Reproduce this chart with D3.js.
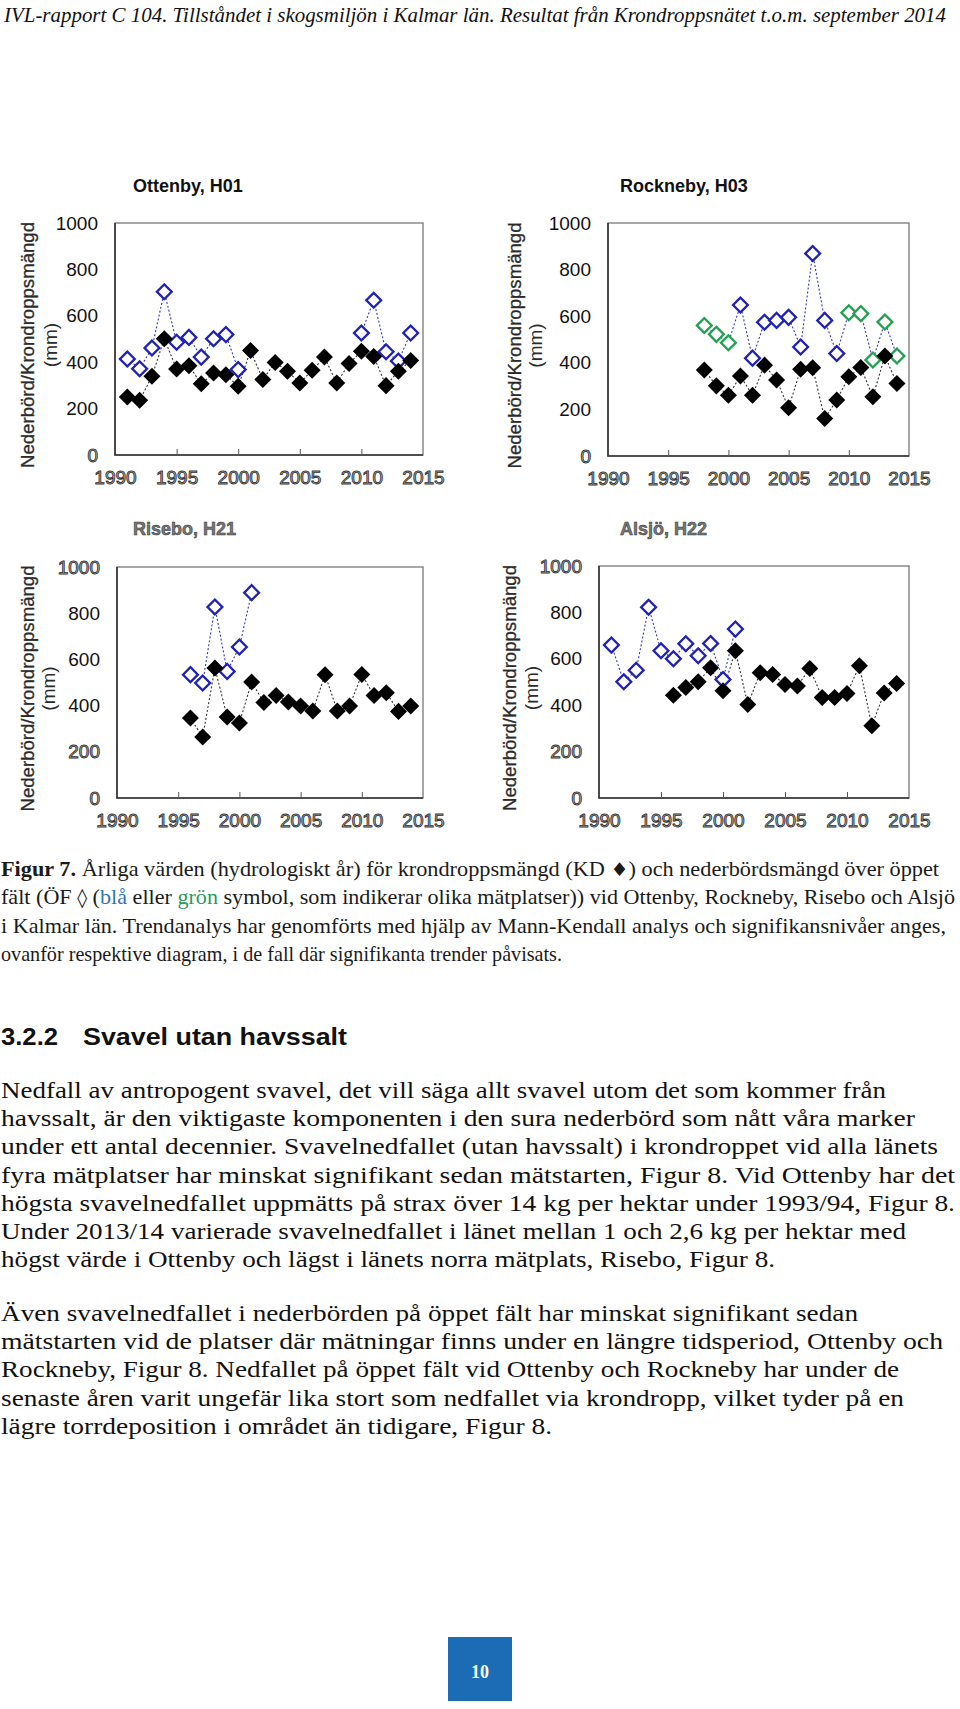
<!DOCTYPE html>
<html>
<head>
<meta charset="utf-8">
<script src="https://cdn.jsdelivr.net/npm/d3@7"></script>
<style>
  body { margin: 0; background: #fff; }
  svg { display: block; }
</style>
</head>
<body>
<svg id="page"></svg>
<script>
// hydrological years shared by all four panels
let years = [1991, 1992, 1993, 1994, 1995, 1996, 1997, 1998, 1999, 2000, 2001, 2002,
             2003, 2004, 2005, 2006, 2007, 2008, 2009, 2010, 2011, 2012, 2013, 2014]

// KD = krondropp (filled), OF = öppet fält (open). null = no measurement
let ottenbyKD = [250, 236, 339, 501, 371, 385, 307, 353, 346, 296, 450, 325,
                 399, 361, 310, 365, 422, 310, 394, 447, 425, 299, 361, 407]
let ottenbyOF = [414, 372, 461, 704, 486, 507, 422, 501, 519, 368, null, null,
                 null, null, null, null, null, null, null, 526, 667, 445, 405, 526]
let ottenbySite = ['b', 'b', 'b', 'b', 'b', 'b', 'b', 'b', 'b', 'b', null, null,
                   null, null, null, null, null, null, null, 'b', 'b', 'b', 'b', 'b']

let rocknebyKD = [null, null, null, null, null, null, null, 369, 301, 261, 343, 261,
                  390, 326, 207, 372, 379, 161, 240, 340, 380, 254, 429, 311]
let rocknebyOF = [null, null, null, null, null, null, null, 560, 522, 486, 648, 420,
                  574, 582, 595, 468, 869, 582, 440, 615, 611, 412, 575, 429]
let rocknebySite = [null, null, null, null, null, null, null, 'g', 'g', 'g', 'b', 'b',
                    'b', 'b', 'b', 'b', 'b', 'b', 'b', 'g', 'g', 'g', 'g', 'g']

let riseboKD = [null, null, null, null, null, 346, 264, 563, 351, 325, 502, 413,
                444, 416, 398, 377, 534, 377, 398, 535, 444, 456, 375, 398]
let riseboOF = [null, null, null, null, null, 534, 498, 827, 548, 654, 889, null,
                null, null, null, null, null, null, null, null, null, null, null, null]
let riseboSite = [null, null, null, null, null, 'b', 'b', 'b', 'b', 'b', 'b', null,
                  null, null, null, null, null, null, null, null, null, null, null, null]

let alsjoKD = [null, null, null, null, null, 443, 476, 501, 561, 462, 635, 403,
               540, 532, 489, 483, 558, 433, 433, 450, 570, 311, 453, 494]
let alsjoOF = [659, 501, 551, 822, 635, 600, 665, 613, 666, 511, 728, null,
               null, null, null, null, null, null, null, null, null, null, null, null]
let alsjoSite = ['b', 'b', 'b', 'b', 'b', 'b', 'b', 'b', 'b', 'b', 'b', null,
                 null, null, null, null, null, null, null, null, null, null, null, null]

let xTicks = [1990, 1995, 2000, 2005, 2010, 2015]
let yTicks = [0, 200, 400, 600, 800, 1000]

let width = 960
let height = 1709
let siteColor = { b: '#1f22b4', g: '#22a050' }
let sans = "'Liberation Sans', Arial, sans-serif"
let serif = "'Liberation Serif', 'Times New Roman', serif"

let panels = [
  { title: 'Ottenby, H01', kd: ottenbyKD, of: ottenbyOF, site: ottenbySite,
    left: 115, right: 423, top: 223, bottom: 455, titleX: 133, titleY: 192,
    lab1: 27, lab2: 50, faded: [0], titleFaded: false },
  { title: 'Rockneby, H03', kd: rocknebyKD, of: rocknebyOF, site: rocknebySite,
    left: 608, right: 909, top: 223, bottom: 456, titleX: 620, titleY: 192,
    lab1: 514, lab2: 535, faded: [0], titleFaded: false },
  { title: 'Risebo, H21', kd: riseboKD, of: riseboOF, site: riseboSite,
    left: 117, right: 423, top: 567, bottom: 798, titleX: 133, titleY: 535,
    lab1: 27, lab2: 48, faded: [0, 200, 1000], titleFaded: true },
  { title: 'Alsjö, H22', kd: alsjoKD, of: alsjoOF, site: alsjoSite,
    left: 599, right: 909, top: 566, bottom: 798, titleX: 620, titleY: 535,
    lab1: 509, lab2: 531, faded: [0, 200, 1000], titleFaded: true }
]

let svg = d3.select('#page')
            .attr('width', width)
            .attr('height', height)

function fade(sel) {
  sel.attr('fill', '#bdbdbd')
     .attr('stroke', '#333')
     .attr('stroke-width', 0.9)
}

function drawPanel(p) {
  let x = d3.scaleLinear().domain([1990, 2015]).range([p.left, p.right])
  let y = d3.scaleLinear().domain([0, 1000]).range([p.bottom, p.top])
  let g = svg.append('g')

  // frame
  g.append('rect')
      .attr('x', p.left)
      .attr('y', p.top)
      .attr('width', p.right - p.left)
      .attr('height', p.bottom - p.top)
      .attr('fill', 'none')
      .attr('stroke', '#777')
      .attr('stroke-width', 1.3)
  g.append('path')
      .attr('d', `M${p.left},${p.top}V${p.bottom}H${p.right}`)
      .attr('fill', 'none')
      .attr('stroke', '#333')
      .attr('stroke-width', 1.6)

  // x labels
  let xAxis = d3.axisBottom(x)
                .tickValues(xTicks)
                .tickSize(0)
                .tickPadding(16)
                .tickFormat(d3.format('d'))
  let xg = g.append('g')
      .attr('transform', `translate(0, ${p.bottom})`)
      .call(xAxis)
  xg.select('.domain').remove()
  xg.selectAll('text')
      .style('font-family', sans)
      .style('font-size', '19px')
      .call(fade)

  // small inward ticks
  let inner = d3.axisBottom(x)
                .tickValues(xTicks.slice(1, -1))
                .tickSize(-6)
                .tickFormat('')
  let ig = g.append('g')
      .attr('transform', `translate(0, ${p.bottom})`)
      .call(inner)
  ig.select('.domain').remove()
  ig.selectAll('line').attr('stroke', '#555')

  // y labels
  let yAxis = d3.axisLeft(y)
                .tickValues(yTicks)
                .tickSize(0)
                .tickPadding(17)
                .tickFormat(d3.format('d'))
  let yg = g.append('g')
      .attr('transform', `translate(${p.left}, 0)`)
      .call(yAxis)
  yg.select('.domain').remove()
  yg.selectAll('text')
      .style('font-family', sans)
      .style('font-size', '19px')
      .attr('fill', '#111')
  yg.selectAll('.tick')
      .filter(d => p.faded.includes(d))
      .select('text')
      .call(fade)

  // axis title
  let cy = (p.top + p.bottom) / 2 + 6
  g.append('text')
      .attr('transform', `translate(${p.lab1}, ${cy}) rotate(-90)`)
      .attr('dy', '0.35em')
      .attr('textLength', 246)
      .attr('lengthAdjust', 'spacingAndGlyphs')
      .style('text-anchor', 'middle')
      .style('font-family', sans)
      .style('font-size', '19px')
      .attr('fill', '#2a2a2a')
      .attr('stroke', '#2a2a2a')
      .attr('stroke-width', 0.3)
      .text('Nederbörd/Krondroppsmängd')
  g.append('text')
      .attr('transform', `translate(${p.lab2}, ${cy}) rotate(-90)`)
      .attr('dy', '0.35em')
      .style('text-anchor', 'middle')
      .style('font-family', sans)
      .style('font-size', '19px')
      .attr('fill', '#2a2a2a')
      .text('(mm)')

  // panel title
  let t = g.append('text')
      .attr('x', p.titleX)
      .attr('y', p.titleY)
      .style('font-family', sans)
      .style('font-size', '18px')
      .style('font-weight', 'bold')
      .attr('fill', '#111')
      .text(p.title)
  if (p.titleFaded) t.attr('fill', '#777').attr('stroke', '#333').attr('stroke-width', 0.5)

  let line = d3.line()
               .defined(d => d.v != null)
               .x(d => x(d.year))
               .y(d => y(d.v))

  let ofData = years.map((year, i) => ({ year: year, v: p.of[i], site: p.site[i] }))
  let kdData = years.map((year, i) => ({ year: year, v: p.kd[i] }))

  g.append('path')
      .datum(ofData)
      .attr('d', line)
      .attr('fill', 'none')
      .attr('stroke', '#3538c0')
      .attr('stroke-width', 1.1)
      .attr('stroke-dasharray', '2,2')
  g.append('path')
      .datum(kdData)
      .attr('d', line)
      .attr('fill', 'none')
      .attr('stroke', '#333')
      .attr('stroke-width', 1.1)
      .attr('stroke-dasharray', '2,2')

  let open = d3.symbol(d3.symbolSquare, 110)
  let filled = d3.symbol(d3.symbolSquare, 145)

  g.selectAll('.of')
    .data(ofData.filter(d => d.v != null))
    .enter()
    .append('path')
      .attr('d', open)
      .attr('transform', d => `translate(${x(d.year)}, ${y(d.v)}) rotate(45)`)
      .attr('fill', '#fff')
      .attr('stroke', d => siteColor[d.site])
      .attr('stroke-width', 2.3)

  g.selectAll('.kd')
    .data(kdData.filter(d => d.v != null))
    .enter()
    .append('path')
      .attr('d', filled)
      .attr('transform', d => `translate(${x(d.year)}, ${y(d.v)}) rotate(45)`)
      .attr('fill', '#000')
}

// running header
svg.append('text')
    .attr('x', 4)
    .attr('y', 22)
    .attr('textLength', 942)
    .attr('lengthAdjust', 'spacingAndGlyphs')
    .style('font-family', serif)
    .style('font-style', 'italic')
    .style('font-size', '21px')
    .attr('fill', '#111')
    .text('IVL-rapport C 104. Tillståndet i skogsmiljön i Kalmar län. Resultat från Krondroppsnätet t.o.m. september 2014')

panels.forEach(drawPanel)

// figure caption, one array of segments per line
let caption = [
  { end: 939, parts: [
    { t: 'Figur 7.', bold: true },
    { t: ' Årliga värden (hydrologiskt år) för krondroppsmängd (KD ' },
    { t: '♦', sym: true },
    { t: ') och nederbördsmängd över öppet' }] },
  { end: 955, parts: [
    { t: 'fält (ÖF ' },
    { t: '◊', sym: true },
    { t: ' (' },
    { t: 'blå', color: '#2e75b6' },
    { t: ' eller ' },
    { t: 'grön', color: '#2b9a5c' },
    { t: ' symbol, som indikerar olika mätplatser)) vid Ottenby, Rockneby, Risebo och Alsjö' }] },
  { end: 946, parts: [
    { t: 'i Kalmar län. Trendanalys har genomförts med hjälp av Mann-Kendall analys och signifikansnivåer anges,' }] },
  { end: 562, parts: [
    { t: 'ovanför respektive diagram, i de fall där signifikanta trender påvisats.' }] }
]

caption.forEach((row, i) => {
  let txt = svg.append('text')
      .attr('x', 1)
      .attr('y', 876 + i * 28.3)
      .attr('textLength', row.end - 1)
      .attr('lengthAdjust', 'spacingAndGlyphs')
      .style('font-family', serif)
      .style('font-size', '21px')
      .attr('fill', '#1a1a1a')
  row.parts.forEach(part => {
    let ts = txt.append('tspan').text(part.t)
    if (part.bold) ts.style('font-weight', 'bold')
    if (part.color) ts.attr('fill', part.color)
    if (part.sym) ts.style('font-family', "'DejaVu Sans', sans-serif").style('font-size', '19px')
  })
})

// section heading
svg.append('text')
    .attr('x', 1)
    .attr('y', 1045)
    .attr('textLength', 57)
    .attr('lengthAdjust', 'spacingAndGlyphs')
    .style('font-family', sans)
    .style('font-weight', 'bold')
    .style('font-size', '23px')
    .attr('fill', '#111')
    .text('3.2.2')
svg.append('text')
    .attr('x', 83)
    .attr('y', 1045)
    .attr('textLength', 264)
    .attr('lengthAdjust', 'spacingAndGlyphs')
    .style('font-family', sans)
    .style('font-weight', 'bold')
    .style('font-size', '23px')
    .attr('fill', '#111')
    .text('Svavel utan havssalt')

let para1 = [
  ['Nedfall av antropogent svavel, det vill säga allt svavel utom det som kommer från', 886],
  ['havssalt, är den viktigaste komponenten i den sura nederbörd som nått våra marker', 915],
  ['under ett antal decennier. Svavelnedfallet (utan havssalt) i krondroppet vid alla länets', 938],
  ['fyra mätplatser har minskat signifikant sedan mätstarten, Figur 8. Vid Ottenby har det', 955],
  ['högsta svavelnedfallet uppmätts på strax över 14 kg per hektar under 1993/94, Figur 8.', 955],
  ['Under 2013/14 varierade svavelnedfallet i länet mellan 1 och 2,6 kg per hektar med', 906],
  ['högst värde i Ottenby och lägst i länets norra mätplats, Risebo, Figur 8.', 775]
]
let para2 = [
  ['Även svavelnedfallet i nederbörden på öppet fält har minskat signifikant sedan', 858],
  ['mätstarten vid de platser där mätningar finns under en längre tidsperiod, Ottenby och', 943],
  ['Rockneby, Figur 8. Nedfallet på öppet fält vid Ottenby och Rockneby har under de', 899],
  ['senaste åren varit ungefär lika stort som nedfallet via krondropp, vilket tyder på en', 904],
  ['lägre torrdeposition i området än tidigare, Figur 8.', 552]
]

function paragraph(lines, y0) {
  lines.forEach((row, i) => {
    svg.append('text')
        .attr('x', 1)
        .attr('y', y0 + i * 28.2)
        .attr('textLength', row[1] - 1)
        .attr('lengthAdjust', 'spacingAndGlyphs')
        .style('font-family', serif)
        .style('font-size', '24px')
        .attr('fill', '#111')
        .text(row[0])
  })
}
paragraph(para1, 1098)
paragraph(para2, 1321)

// page number
svg.append('rect')
    .attr('x', 448)
    .attr('y', 1637)
    .attr('width', 64)
    .attr('height', 64)
    .attr('fill', '#1b6cb4')
svg.append('text')
    .attr('x', 480)
    .attr('y', 1678)
    .style('text-anchor', 'middle')
    .style('font-family', serif)
    .style('font-weight', 'bold')
    .style('font-size', '18px')
    .attr('fill', '#fff')
    .text('10')
</script>
</body>
</html>
